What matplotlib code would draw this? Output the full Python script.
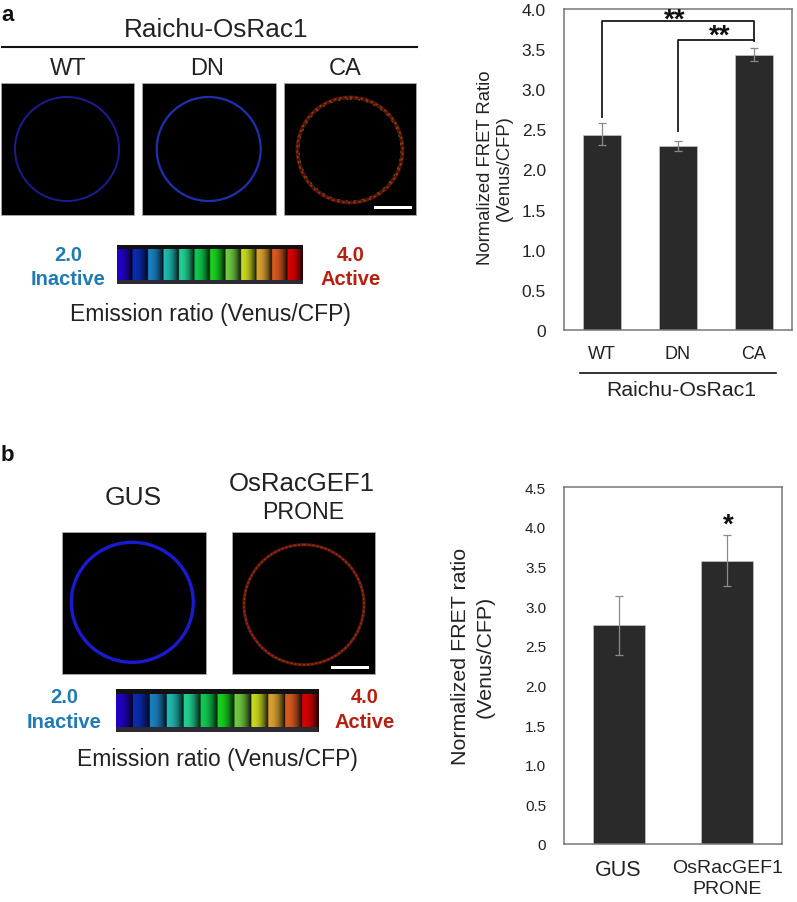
import numpy as np
import matplotlib
matplotlib.use("Agg")
import matplotlib.pyplot as plt
from matplotlib.patches import Ellipse, Rectangle

plt.rcParams['font.family'] = ['Liberation Sans', 'DejaVu Sans']

W, H = 797, 903
TEXT = '#222222'
BAR = '#2a2a2a'
SPINE = '#777777'
BLUE_T = '#1f7ab5'
RED_T = '#b5200f'

# data
cats_a = ['WT', 'DN', 'CA']
vals_a = [2.43, 2.29, 3.43]
err_lo_a = [2.30, 2.23, 3.35]
err_hi_a = [2.575, 2.36, 3.52]
yticks_a = [0, 0.5, 1.0, 1.5, 2.0, 2.5, 3.0, 3.5, 4.0]
cats_b = ['GUS', 'OsRacGEF1\nPRONE']
vals_b = [2.76, 3.575]
err_lo_b = [2.385, 3.25]
err_hi_b = [3.13, 3.90]
yticks_b = [0, 0.5, 1.0, 1.5, 2.0, 2.5, 3.0, 3.5, 4.0, 4.5]
scale_colors = ['#2000c8', '#0a2cb0', '#1a7fc0', '#20b8b0', '#20d090', '#10c850',
                '#18d020', '#70c840', '#c8d820', '#d8a030', '#d85a20', '#d80000']


def tl(v):
    return '0' if v == 0 else f'{v:.1f}'


fig = plt.figure(figsize=(W / 100, H / 100), dpi=100, facecolor='white')


def px_axes(x0, y0, x1, y1):
    return fig.add_axes([x0 / W, 1 - y1 / H, (x1 - x0) / W, (y1 - y0) / H])


def bars(ax, cats, vals, lo, hi, yticks, ymax, width, tsize, xsize, xpad, ecolor):
    x = np.arange(len(cats))
    ax.bar(x, vals, width=width, color=BAR, edgecolor='#cfcfcf', linewidth=0.4, zorder=2)
    ax.errorbar(x, vals,
                yerr=[np.array(vals) - np.array(lo), np.array(hi) - np.array(vals)],
                fmt='none', ecolor=ecolor, elinewidth=0.9, capsize=3, capthick=0.9, zorder=3)
    ax.set_xlim(-0.5, len(cats) - 0.5)
    ax.set_ylim(0, ymax)
    ax.set_yticks(yticks)
    ax.set_yticklabels([tl(v) for v in yticks], fontsize=tsize, color=TEXT)
    ax.set_xticks(x)
    ax.set_xticklabels(cats, fontsize=xsize, color=TEXT, linespacing=1.3)
    ax.tick_params(axis='both', length=0)
    ax.tick_params(axis='y', pad=13)
    ax.tick_params(axis='x', pad=xpad)
    for s in ax.spines.values():
        s.set_color(SPINE)
        s.set_linewidth(1.1)


# panel a chart
ax_a = px_axes(564, 10, 792, 331)
bars(ax_a, cats_a, vals_a, err_lo_a, err_hi_a, yticks_a, 4.0, 0.5, 12.5, 13, 11, '#8a8a8a')
ax_a.set_ylabel('Normalized FRET Ratio\n(Venus/CFP)', fontsize=13.3, color=TEXT, linespacing=1.15)
ax_a.yaxis.set_label_coords((513 - 564) / 228, (331 - 168) / 321)
ax_a.plot([0, 0, 2, 2], [2.65, 3.85, 3.85, 3.6], color='#1a1a1a', lw=1.3, zorder=4, clip_on=False)
ax_a.plot([1, 1, 2], [2.48, 3.61, 3.61], color='#1a1a1a', lw=1.3, zorder=4)

# panel b chart
ax_b = px_axes(564.3, 488.3, 781.7, 845)
bars(ax_b, cats_b, vals_b, err_lo_b, err_hi_b, yticks_b, 4.5, 0.48, 11, 14, 11, '#8a8a8a')
ax_b.get_xticklabels()[0].set_fontsize(15.5)
ax_b.set_ylabel('Normalized FRET ratio\n(Venus/CFP)', fontsize=15.4, color=TEXT, linespacing=1.42)
ax_b.yaxis.set_label_coords((495 - 564.3) / 217.4, (845 - 656.7) / 356.7)

# overlay in pixel coordinates
ov = fig.add_axes([0, 0, 1, 1], facecolor='none', zorder=5)
ov.axis('off')


def ring(cx, cy, rx, ry, color, lw, ls='-', alpha=1):
    ov.add_patch(Ellipse((cx, cy), 2 * rx, 2 * ry, fill=False, edgecolor=color, lw=lw, ls=ls, alpha=alpha))


def panel(x0, y0, x1, y1):
    ov.add_patch(Rectangle((x0, y0), x1 - x0, y1 - y0, facecolor='black', edgecolor='#b0b0b0', lw=0.5))


def scalebar(x0, x1, y):
    ov.add_patch(Rectangle((x0, y - 1.7), x1 - x0, 3.4, facecolor='white', edgecolor='none', zorder=3))


def colorscale(x0, y0, x1, y1, band):
    ramp = 1 - 0.88 * np.linspace(0, 1, 24) ** 2.2
    rows = [np.outer(ramp, matplotlib.colors.to_rgb(c)) for c in scale_colors]
    img = np.concatenate(rows)[None, :, :]
    ov.imshow(img, extent=(x0, x1, y1, y0), aspect='auto', interpolation='bilinear', zorder=2)
    ov.add_patch(Rectangle((x0, y0), x1 - x0, band, facecolor='#111111', edgecolor='none', zorder=3))
    ov.add_patch(Rectangle((x0, y1 - band), x1 - x0, band, facecolor='#2a2a32', edgecolor='none', zorder=3))


# panel a images
panel(1, 84, 134, 216)
panel(142, 84, 276, 216)
panel(284, 84, 416, 216)
ring(67, 150, 52, 52, '#1c1c90', 1.4)
ring(208.7, 150, 52, 52, '#2030ac', 1.6)
ring(350, 151, 52.5, 52.5, '#4a1508', 2.8)
ring(350, 151, 52.8, 52.8, '#a83018', 1.1, ls=(0, (1.5, 2)))
ring(350, 151, 51, 51, '#6a6a20', 0.9, ls=(0, (1.5, 5)), alpha=0.8)
scalebar(373.7, 411.7, 208.3)
colorscale(117.3, 246, 303, 284.7, 4)

# panel b images
panel(61.7, 532.7, 205.7, 675.3)
panel(232.3, 532.7, 375.3, 675.3)
ring(132.3, 603.3, 61, 60, '#1a1ad0', 2.4)
ring(304, 605.7, 60, 60, '#5a1a0c', 2.2)
ring(304, 605.7, 60, 60, '#a82a14', 1.0, ls=(0, (1.5, 1.5)))
scalebar(331.3, 369.3, 668.7)
colorscale(115.7, 689.7, 318, 732.7, 5)


def t(x, y, s, size, color=TEXT, weight='normal', ha='center', **kw):
    ov.text(x, y, s, fontsize=size, color=color, fontweight=weight, ha=ha, va='center', **kw)


t(1, 15.5, 'a', 16, color='#111111', weight='bold', ha='left')
t(1, 456, 'b', 16, color='#111111', weight='bold', ha='left')
t(216, 30, 'Raichu-OsRac1', 18.8)
ov.plot([2.5, 417], [47.5, 47.5], color='#111111', lw=1.5)
t(68, 69, 'WT', 17)
t(207, 69, 'DN', 17)
t(345, 69, 'CA', 17)
t(68, 256, '2.0', 14.5, color=BLUE_T, weight='bold')
t(68, 279.5, 'Inactive', 14.5, color=BLUE_T, weight='bold')
t(351, 256, '4.0', 14.5, color=RED_T, weight='bold')
t(351, 279.5, 'Active', 14.5, color=RED_T, weight='bold')
t(210, 315, 'Emission ratio (Venus/CFP)', 16.5)

t(133, 498, 'GUS', 19)
t(302, 484, 'OsRacGEF1', 18.5)
t(303, 513, 'PRONE', 16.7)
t(64, 698, '2.0', 14.5, color=BLUE_T, weight='bold')
t(64, 722.5, 'Inactive', 14.5, color=BLUE_T, weight='bold')
t(364.5, 698, '4.0', 14.5, color=RED_T, weight='bold')
t(364.5, 722.5, 'Active', 14.5, color=RED_T, weight='bold')
t(217, 760, 'Emission ratio (Venus/CFP)', 16.5)

ov.plot([580, 775.7], [373.7, 373.7], color='#111111', lw=1.2)
t(681.7, 391, 'Raichu-OsRac1', 15.3)
t(675, 20.5, '**', 20, color='#111111', weight='bold')
t(720, 36.5, '**', 20, color='#111111', weight='bold')
t(728, 526, '*', 20, color='#111111', weight='bold')

ov.set_xlim(0, W)
ov.set_ylim(H, 0)

fig.savefig('out.png', dpi=100)
